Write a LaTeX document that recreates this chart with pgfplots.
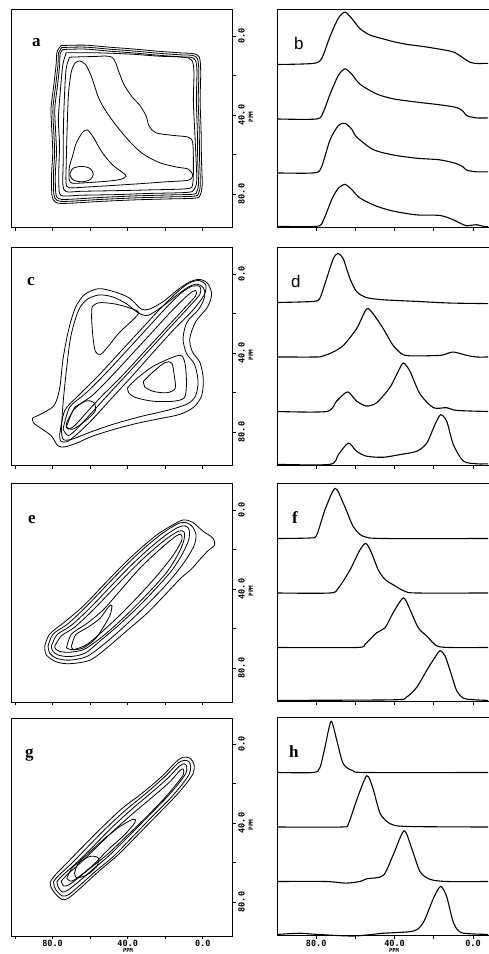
\documentclass[border=0pt]{standalone}
\usepackage{pgfplots}
\pgfplotsset{compat=1.18}
\usepackage{fontspec}
\setmainfont{Liberation Serif}
\newfontfamily\monofont{DejaVu Sans Mono}
\newfontfamily\sansfont{Liberation Sans}

\pgfplotsset{
  panelbase/.style={
    scale only axis, clip=false,
    axis line style={line width=1pt},
    every tick/.style={line width=0.8pt, black},
    tick align=outside, major tick length=3pt,
    ticklabel style={font=\monofont\bfseries\fontsize{8.5}{9}\selectfont},
    /pgf/number format/assume math mode=true,
  },
  leftpanel/.style={panelbase, width=221pt, height=218pt,
    xmin=-16.1, xmax=101.6, x dir=reverse,
    ymin=-13.2, ymax=97.2, y dir=reverse,
    xtick={0,20,40,60,80,100}, xtick pos=left, xticklabels={,,,,,},
    ytick={0,20,40,60,80}, ytick pos=right, yticklabel pos=right,
    yticklabels={0.0,,40.0,,80.0},
    yticklabel style={rotate=90, anchor=north, inner sep=2pt},
  },
  rightpanel/.style={panelbase, width=218.5pt, height=218pt,
    xmin=-12, xmax=99.5, x dir=reverse, ymin=0, ymax=4,
    xtick={0,20,40,60,80}, xtick pos=left, xticklabels={,,,,},
    ytick=\empty,
  },
  cont/.style={black, line width=0.8pt, smooth, tension=0.5, mark=none},
  trace/.style={black, line width=1.1pt, smooth, tension=0.45, mark=none},
}

\begin{document}
\begin{tikzpicture}[x=1pt,y=1pt]

% ================= ROW 1 =================
\begin{axis}[leftpanel, at={(12pt,944pt)}, anchor=north west]
\addplot[cont] coordinates {(75.4,4.8)(62.8,4.6)(50.2,5.6)(37.5,6.5)(24.9,7.6)(12.3,8.5)(5.0,8.9)(1.8,10.7)(1.1,18.1)(1.4,32.8)(0.9,47.5)(0.7,62.2)(0.3,75.1)(1.4,80.6)(4.1,82.1)(19.5,82.5)(37.5,83.0)(55.6,83.8)(71.8,84.7)(78.1,84.3)(80.3,80.6)(80.5,69.6)(79.9,58.6)(80.5,45.7)(80.8,36.5)(79.4,25.4)(78.1,14.4)(77.6,8.0)(75.4,4.8)};
\addplot[cont] coordinates {(75.0,5.8)(62.8,5.6)(50.2,6.6)(37.5,7.5)(24.9,8.6)(12.3,9.5)(5.5,9.8)(2.8,11.5)(2.1,18.1)(2.4,32.8)(1.9,47.5)(1.7,62.2)(1.3,75.1)(2.3,79.8)(4.6,81.1)(19.5,81.5)(37.5,82.0)(55.6,82.8)(71.8,83.7)(77.5,83.3)(79.3,80.0)(79.5,69.6)(78.9,58.6)(79.5,45.7)(79.8,36.5)(78.4,25.4)(77.1,14.4)(76.8,8.5)(75.0,5.8)};
\addplot[cont] coordinates {(74.5,6.8)(62.8,6.6)(50.2,7.6)(37.5,8.5)(24.9,9.6)(12.3,10.5)(6.0,10.8)(3.8,12.5)(3.1,18.1)(3.4,32.8)(2.9,47.5)(2.7,62.2)(2.3,75.1)(3.3,79.0)(5.2,80.1)(19.5,80.5)(37.5,81.0)(55.6,81.8)(71.8,82.7)(76.8,82.3)(78.3,79.4)(78.5,69.6)(77.9,58.6)(78.5,45.7)(78.8,36.5)(77.4,25.4)(76.2,14.4)(76.0,9.0)(74.5,6.8)};
\addplot[cont] coordinates {(72.7,8.5)(55.6,8.5)(37.5,9.2)(23.1,10.2)(10.4,10.7)(5.9,12.2)(4.7,18.1)(5.0,32.8)(4.3,47.5)(3.6,62.2)(3.2,73.3)(4.7,77.9)(8.6,79.2)(28.5,79.7)(46.5,80.3)(64.6,80.6)(73.6,81.0)(76.3,79.7)(76.7,69.6)(76.3,54.9)(76.9,42.0)(75.8,27.3)(74.5,14.4)(72.7,8.5)};
\addplot[cont] coordinates {(70.9,10.7)(59.2,10.4)(48.4,10.7)(44.7,18.1)(42.0,24.5)(37.5,31.0)(33.9,34.6)(30.3,40.2)(28.5,45.7)(24.9,49.0)(15.9,50.3)(7.7,51.2)(5.4,53.9)(5.0,64.1)(5.4,75.1)(8.6,77.3)(28.5,77.9)(46.5,78.3)(64.6,78.6)(72.7,78.8)(74.5,75.1)(74.3,62.2)(74.2,45.7)(73.6,29.1)(72.7,16.2)(70.9,10.7)};
\addplot[cont] coordinates {(65.5,12.6)(62.4,14.4)(59.2,20.8)(55.6,31.0)(52.0,37.4)(46.5,44.8)(39.3,53.0)(32.1,59.5)(23.1,64.1)(14.1,66.3)(7.7,67.4)(5.4,70.5)(7.7,73.0)(19.5,73.8)(33.9,74.8)(50.2,75.8)(62.8,76.5)(71.0,76.8)(72.8,74.5)(72.7,64.1)(72.2,45.7)(71.5,29.1)(70.0,18.1)(67.9,13.5)(65.5,12.6)};
\addplot[cont] coordinates {(61.3,47.5)(58.3,51.2)(53.8,58.6)(48.4,64.9)(42.9,69.0)(40.8,71.0)(43.8,72.6)(52.0,73.6)(62.8,74.3)(69.5,74.5)(71.2,72.5)(71.0,66.0)(69.5,61.3)(67.3,54.0)(63.7,48.4)(61.3,47.5)};
\addplot[cont] coordinates {(70.9,70.0)(69.1,67.0)(64.6,66.0)(60.1,67.0)(58.3,70.0)(60.1,72.8)(64.6,73.8)(69.1,72.8)(70.9,70.0)};
\end{axis}

\begin{axis}[rightpanel, at={(278pt,944pt)}, anchor=north west]
\addplot[trace] coordinates {(99.5,3.0)(81.5,3.02)(77.2,3.11)(73.0,3.51)(68.7,3.85)(65.3,3.96)(62.0,3.85)(57.7,3.66)(52.6,3.54)(45.8,3.47)(40.7,3.42)(33.9,3.37)(25.4,3.33)(16.8,3.28)(10.0,3.23)(5.8,3.14)(1.5,3.04)(-1,3.02)(-7.7,3.02)};
\addplot[trace] coordinates {(99.5,2.0)(79.8,2.0)(76.5,2.12)(73.0,2.45)(68.7,2.8)(65.3,2.92)(62.0,2.83)(57.7,2.64)(49.2,2.46)(40.7,2.37)(28.7,2.31)(16.8,2.26)(8.3,2.21)(5,2.14)(3.2,2.06)(-1.9,2.02)(-7.7,2.02)};
\addplot[trace] coordinates {(99.5,1.01)(81.5,1.01)(77.5,1.1)(73.0,1.61)(68.7,1.88)(65.3,1.92)(62,1.82)(59.4,1.67)(51.0,1.44)(40.7,1.34)(28.7,1.28)(16.8,1.25)(8.3,1.18)(5,1.12)(3.2,1.06)(-1.9,1.03)(-7.7,1.03)};
\addplot[trace] coordinates {(99.5,0.03)(79.8,0.03)(76.5,0.13)(72.0,0.53)(68.7,0.73)(65.3,0.8)(62.0,0.71)(57.7,0.55)(49.2,0.4)(40.7,0.31)(28.7,0.24)(16.8,0.23)(10.0,0.15)(5,0.06)(3.2,0.04)(-1.9,0.06)(-5.3,0.03)(-7.7,0.03)};
\end{axis}

% ================= ROW 2 =================
\begin{axis}[leftpanel, at={(12pt,706pt)}, anchor=north west]
\addplot[cont] coordinates {(90.7,72.9)(84.4,70.0)(79.0,66.3)(76.2,57.9)(74.4,42.9)(71.4,28.0)(67.7,16.7)(62.7,10.2)(55.4,7.4)(47.3,8.9)(39.1,12.1)(32.8,17.7)(28.3,17.7)(21.0,13.9)(13.8,8.3)(7.4,4.2)(2.0,2.7)(-2.5,4.6)(-4.7,10.2)(-2.5,16.7)(3.8,24.2)(6.9,32.6)(5.6,39.2)(1.5,44.8)(-0.3,53.2)(0.6,61.6)(4.7,67.3)(12.0,71.0)(22.8,73.2)(35.5,75.7)(48.2,78.9)(59.0,82.2)(67.2,85.6)(73.5,87.5)(77.2,86.9)(80.8,81.8)(86.2,78.1)(90.2,75.3)(90.7,72.9)};
\addplot[cont] coordinates {(75.3,78.5)(74.4,65.4)(72.6,48.5)(70.3,31.7)(66.3,18.6)(61.8,13.0)(55.4,10.6)(48.2,11.5)(40.9,14.9)(34.6,19.5)(29.2,20.9)(21.9,16.7)(13.8,10.7)(7.4,6.4)(2.9,5.1)(-0.4,7.0)(-1.1,11.1)(2.0,17.7)(8.3,24.2)(10.5,32.6)(8.7,40.1)(4.4,45.7)(2.5,54.2)(3.8,61.6)(8.3,65.8)(19.2,69.1)(33.7,72.3)(48.2,76.2)(60.9,80.4)(69.9,83.7)(74.4,83.7)(75.3,78.5)};
\addplot[cont] coordinates {(59.0,16.7)(55.4,14.5)(46.4,15.2)(37.3,17.7)(34.1,19.5)(37.3,23.3)(44.6,29.8)(50.9,37.3)(54.5,40.7)(57.2,39.2)(58.5,31.7)(59.2,22.4)(59.0,16.7)};
\addplot[cont] coordinates {(40.0,57.5)(35.5,53.2)(26.4,46.7)(15.6,42.0)(11.1,41.4)(9.2,46.7)(8.7,56.0)(9.8,62.6)(15.6,64.4)(26.4,64.4)(35.5,62.6)(39.5,60.1)(40.0,57.5)};
\addplot[cont] coordinates {(31.5,54.2)(26.4,49.5)(20.1,44.8)(16.5,45.1)(15.2,51.3)(14.7,57.9)(19.2,60.1)(26.4,59.4)(31.0,57.0)(31.5,54.2)};
\addplot[cont] coordinates {(76.2,81.3)(73.5,69.1)(66.3,61.6)(55.4,51.3)(44.6,40.1)(33.7,28.9)(22.8,17.7)(13.8,9.3)(7.4,4.6)(2.0,3.3)(-1.6,5.5)(-0.7,10.7)(5.6,18.6)(15.6,28.3)(26.4,39.6)(37.3,51.3)(48.2,62.6)(59.0,73.8)(67.2,81.3)(72.6,85.0)(75.7,84.5)(76.2,81.3)};
\addplot[cont] coordinates {(74.4,78.5)(70.8,67.3)(62.7,60.7)(51.8,50.4)(40.9,39.2)(30.1,28.0)(19.2,16.7)(11.1,9.3)(5.6,6.1)(1.5,6.4)(1.5,10.2)(7.4,16.7)(17.4,27.0)(28.3,38.3)(39.1,49.5)(50.0,60.7)(59.9,71.0)(67.2,78.5)(71.7,81.8)(74.4,78.5)};
\addplot[cont] coordinates {(68.1,67.3)(59.0,61.6)(48.2,51.3)(37.3,40.1)(26.4,28.9)(15.6,17.7)(7.4,10.2)(3.8,8.3)(3.8,11.1)(10.1,17.7)(21.0,28.9)(31.9,40.1)(42.7,51.3)(53.6,61.6)(60.9,69.1)(68.1,76.6)(71.7,78.5)(72.6,75.7)(68.1,67.3)};
\addplot[cont] coordinates {(72.6,77.5)(69.0,69.1)(62.7,64.4)(58.1,65.0)(57.2,69.1)(61.8,73.8)(69.0,78.5)(72.6,77.5)};
\end{axis}

\begin{axis}[rightpanel, at={(278pt,706pt)}, anchor=north west]
\addplot[trace] coordinates {(99.5,3.0)(81.5,3.02)(78.1,3.08)(74.7,3.44)(71.3,3.8)(69.0,3.9)(66.2,3.8)(62.8,3.44)(59.4,3.2)(54.3,3.09)(45.8,3.05)(28.7,3.02)(11.7,2.99)(-7.7,2.98)};
\addplot[trace] coordinates {(99.5,2.0)(79.5,2.0)(76.5,2.02)(72.0,2.08)(66.2,2.21)(59.4,2.52)(54.3,2.88)(50.9,2.79)(45.8,2.52)(40.7,2.21)(35.5,2.04)(28.7,2.02)(16.8,2.03)(13.4,2.06)(10.8,2.09)(8.3,2.08)(3.2,2.03)(-1.9,2.0)(-7.7,2.0)};
\addplot[trace] coordinates {(99.5,1.0)(74.7,1.0)(69.6,1.19)(64.0,1.36)(59.4,1.19)(54.3,1.1)(49.2,1.16)(42.4,1.44)(38.1,1.74)(35.5,1.89)(32.2,1.74)(27.0,1.32)(20.2,1.07)(13.4,1.07)(8.3,1.02)(-7.7,1.0)};
\addplot[trace] coordinates {(99.5,0.03)(73.0,0.03)(68.7,0.21)(63.6,0.42)(59.4,0.27)(54.3,0.18)(45.8,0.16)(37.2,0.21)(28.7,0.27)(23.6,0.42)(19.4,0.76)(16.5,0.94)(13.4,0.82)(10.0,0.39)(4.9,0.09)(-1.9,0.04)(-7.7,0.04)};
\end{axis}

% ================= ROW 3 =================
\begin{axis}[leftpanel, at={(12pt,470pt)}, anchor=north west]
\addplot[cont] coordinates {(84.2,68.9)(81.5,62.8)(73.5,56.6)(63.6,48.6)(52.9,38.0)(42.1,27.4)(33.2,19.5)(24.2,12.4)(15.2,7.1)(10.2,5.0)(5.4,6.2)(0.0,10.6)(-5.4,14.2)(-6.3,17.7)(-2.7,20.7)(1.8,25.3)(6.3,30.1)(11.7,34.5)(18.8,41.6)(29.6,52.2)(40.3,61.0)(51.1,69.8)(60.0,76.0)(70.8,77.8)(77.9,76.9)(83.3,73.4)(84.2,68.9)};
\addplot[cont] coordinates {(82.4,68.9)(79.7,62.8)(71.7,57.5)(61.8,48.6)(51.1,38.0)(40.3,27.4)(31.4,19.5)(22.4,12.4)(14.3,7.4)(9.9,6.2)(5.9,8.0)(3.6,12.4)(4.5,17.7)(8.1,23.9)(13.5,31.0)(20.6,39.0)(31.4,49.5)(42.1,59.2)(52.9,68.1)(61.8,74.2)(70.8,76.0)(77.9,75.1)(81.5,72.5)(82.4,68.9)};
\addplot[cont] coordinates {(80.6,68.9)(77.6,63.1)(69.9,58.3)(60.0,49.5)(49.3,38.9)(38.5,28.3)(29.6,20.4)(20.6,13.3)(13.5,8.9)(9.3,8.0)(7.2,10.1)(7.5,15.1)(10.8,22.1)(16.1,30.1)(23.3,38.0)(33.9,48.6)(44.8,58.3)(54.7,66.3)(62.7,72.5)(70.8,74.2)(77.1,73.4)(80.1,71.2)(80.6,68.9)};
\addplot[cont] coordinates {(78.8,68.9)(75.3,63.7)(68.1,59.2)(58.2,50.4)(47.5,39.8)(36.7,29.2)(27.8,21.2)(18.8,14.2)(12.6,10.6)(9.9,11.2)(10.2,15.9)(13.5,23.0)(18.8,31.0)(26.0,38.9)(36.7,49.5)(47.5,59.2)(56.5,66.3)(63.6,70.7)(70.8,72.0)(76.2,71.6)(78.5,70.2)(78.8,68.9)};
\addplot[cont] coordinates {(72.6,69.8)(69.9,62.8)(61.8,57.5)(52.9,50.4)(43.9,40.7)(33.2,29.2)(22.4,19.5)(14.4,13.3)(11.7,12.4)(11.1,15.1)(15.2,22.1)(22.4,31.0)(31.4,40.7)(42.1,51.3)(52.9,61.0)(61.8,68.1)(69.0,70.7)(72.6,69.8)};
\addplot[cont] coordinates {(69.9,68.9)(67.6,63.1)(60.9,59.2)(54.7,54.8)(50.2,49.0)(48.4,48.3)(49.3,53.0)(52.9,59.2)(57.4,65.4)(63.6,69.8)(69.0,70.7)(69.9,68.9)};
\end{axis}

\begin{axis}[rightpanel, at={(278pt,470pt)}, anchor=north west]
\addplot[trace] coordinates {(99.5,3.0)(83.2,3.01)(79.8,3.06)(75.5,3.53)(70.4,3.92)(66.2,3.65)(61.1,3.22)(56.0,3.04)(45.8,3.0)(-7.7,3.0)};
\addplot[trace] coordinates {(99.5,2.0)(73.0,2.0)(68.7,2.09)(62.8,2.42)(57.7,2.79)(54.6,2.91)(51.7,2.73)(48.3,2.42)(44.9,2.25)(40.7,2.15)(34.7,2.03)(28.7,2.0)(-7.7,2.0)};
\addplot[trace] coordinates {(99.5,1.0)(59.4,1.0)(55.1,1.06)(49.2,1.27)(44.9,1.36)(40.7,1.64)(35.5,1.91)(32.2,1.7)(27.9,1.36)(23.6,1.21)(18.5,1.03)(11.7,1.0)(-7.7,1.0)};
\addplot[trace] coordinates {(99.5,0.03)(40.7,0.04)(33.9,0.09)(28.7,0.27)(23.6,0.58)(19.4,0.82)(16.8,0.94)(14.3,0.85)(11.7,0.58)(8.3,0.21)(4.1,0.06)(-7.7,0.03)};
\end{axis}

% ================= ROW 4 =================
\begin{axis}[leftpanel, at={(12pt,236pt)}, anchor=north west, xticklabels={0.0,,40.0,,80.0,}, xticklabel style={inner sep=1pt}]
\addplot[cont] coordinates {(81.2,69.7)(78.6,66.3)(71.5,59.4)(62.7,50.8)(53.8,42.3)(43.2,32.8)(32.6,25.1)(21.9,16.5)(14.0,8.8)(10.4,6.7)(6.9,7.1)(4.6,10.5)(5.1,14.8)(8.7,19.9)(14.9,26.8)(23.7,35.4)(34.3,45.7)(45.0,56.0)(55.6,64.6)(64.4,72.3)(71.5,78.0)(75.0,78.7)(78.6,75.7)(80.9,72.3)(81.2,69.7)};
\addplot[cont] coordinates {(79.5,69.7)(76.8,66.6)(69.7,60.3)(60.9,51.7)(52.0,43.1)(41.4,33.7)(30.8,25.4)(20.2,16.5)(13.1,9.6)(9.9,8.3)(7.4,8.8)(6.4,11.7)(7.4,15.6)(11.3,20.8)(17.5,27.7)(26.4,36.2)(37.0,46.6)(47.6,56.9)(57.3,64.6)(65.3,71.4)(71.5,76.3)(74.7,76.9)(77.7,74.5)(79.1,72.0)(79.5,69.7)};
\addplot[cont] coordinates {(77.7,69.7)(75.0,66.8)(68.0,60.8)(59.1,52.6)(50.3,44.0)(39.6,34.5)(29.0,25.9)(19.3,17.9)(12.7,11.4)(9.9,10.0)(8.5,11.4)(9.0,14.8)(13.1,20.3)(19.3,27.1)(28.1,35.7)(38.8,46.0)(49.4,56.0)(58.8,63.7)(66.6,70.1)(71.9,74.0)(74.7,74.9)(76.8,72.8)(77.7,69.7)};
\addplot[cont] coordinates {(75.4,69.4)(72.4,66.3)(65.3,60.3)(56.5,52.2)(47.6,44.0)(37.0,35.0)(26.4,26.5)(17.5,19.1)(12.2,13.4)(10.4,12.7)(10.4,15.6)(14.9,21.3)(21.1,28.2)(29.9,36.8)(40.5,46.6)(50.6,55.7)(60.0,62.9)(67.1,68.4)(71.5,71.4)(74.2,71.8)(75.4,69.4)};
\addplot[cont] coordinates {(72.4,68.0)(69.7,62.9)(62.7,56.9)(53.8,49.1)(45.0,42.3)(37.0,38.0)(36.1,39.7)(41.4,45.7)(50.3,53.4)(57.3,60.3)(63.5,65.4)(69.7,69.4)(72.4,68.0)};
\addplot[cont] coordinates {(68.3,65.4)(66.2,60.3)(60.0,56.9)(55.6,57.7)(56.5,62.0)(61.8,66.3)(67.1,67.7)(68.3,65.4)};
\end{axis}

\begin{axis}[rightpanel, at={(278pt,236pt)}, anchor=north west, xticklabels={0.0,,40.0,,80.0}, xticklabel style={inner sep=1pt}]
\addplot[trace] coordinates {(99.5,3.0)(81.5,3.0)(78.1,3.09)(75.5,3.47)(72.4,3.94)(69.5,3.59)(66.2,3.16)(61.1,3.03)(54.2,3.0)(-7.7,3.0)};
\addplot[trace] coordinates {(99.5,2.0)(67.0,2.0)(63.6,2.06)(59.3,2.5)(54.2,2.94)(50.9,2.69)(47.4,2.25)(42.3,2.06)(33.8,2.01)(-7.7,2.0)};
\addplot[trace] coordinates {(99.5,1.0)(75,1.0)(65,0.97)(57.7,1.0)(54.2,1.05)(45.8,1.11)(40.7,1.49)(35.2,1.93)(31.3,1.61)(27.0,1.18)(21.9,1.04)(13.4,1.0)(-7.7,1.0)};
\addplot[trace] coordinates {(99.5,0.03)(88.3,0.05)(79.8,0.03)(61.1,0.0)(45.8,0.05)(30.4,0.09)(25.3,0.25)(20.2,0.69)(16.5,0.91)(13.4,0.72)(10.0,0.25)(5.8,0.06)(-7.7,0.03)};
\end{axis}

% ================= labels =================
\def\ppmfont{\monofont\bfseries\fontsize{6}{6}\selectfont}
\foreach \t in {10,248,484,718}{
  \node[rotate=90, font=\ppmfont, inner sep=0pt] at (251pt,{954-\t-107}) {PPM};
}
\def\ppmsmall{\monofont\bfseries\fontsize{5.5}{5.5}\selectfont}
\node[font=\ppmsmall, anchor=north, inner sep=0pt] at (128pt,5.4pt) {PPM};
\node[font=\ppmsmall, anchor=north, inner sep=0pt] at (394pt,5.4pt) {PPM};

\def\lfont{\fontsize{17}{17}\selectfont\bfseries}
\node[font=\lfont, anchor=base west, inner sep=0pt] at (32pt,907pt) {a};
\node[font=\sansfont\fontsize{17}{17}\selectfont, anchor=base west, inner sep=0pt] at (294pt,904pt) {b};
\node[font=\lfont, anchor=base west, inner sep=0pt] at (27pt,668pt) {c};
\node[font=\sansfont\fontsize{17}{17}\selectfont, anchor=base west, inner sep=0pt] at (291pt,666pt) {d};
\node[font=\lfont, anchor=base west, inner sep=0pt] at (28pt,430pt) {e};
\node[font=\lfont, anchor=base west, inner sep=0pt] at (292pt,430pt) {f};
\node[font=\lfont, anchor=base west, inner sep=0pt] at (25pt,196pt) {g};
\node[font=\lfont, anchor=base west, inner sep=0pt] at (289pt,196pt) {h};

\pgfresetboundingbox
\path[use as bounding box] (0pt,0pt) rectangle (488pt,954pt);
\end{tikzpicture}
\end{document}
